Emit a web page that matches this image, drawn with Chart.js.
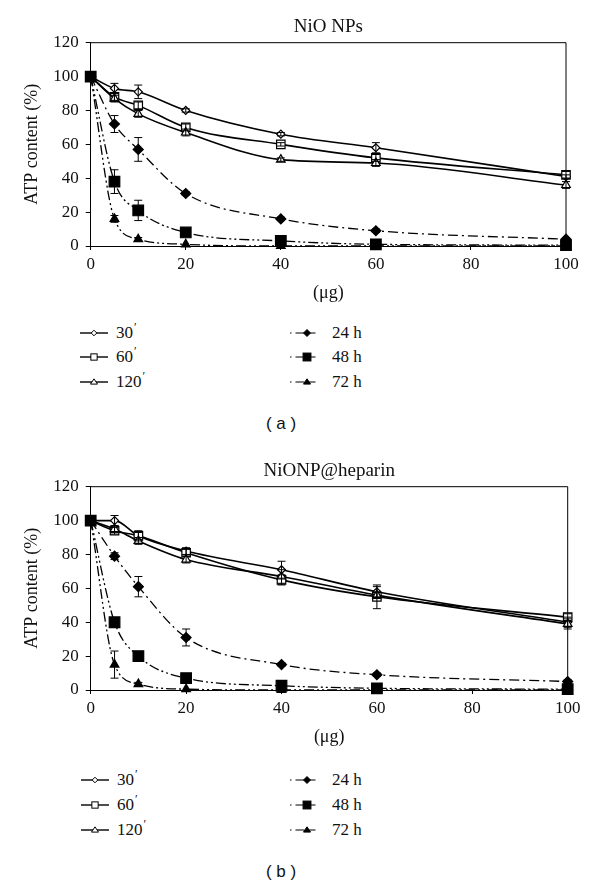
<!DOCTYPE html>
<html>
<head>
<meta charset="utf-8">
<script src="https://cdn.jsdelivr.net/npm/chart.js@4.4.1/dist/chart.umd.min.js"></script>
<style>
  body { margin: 0; background: #fff; }
  #page { position: relative; width: 600px; height: 889px; overflow: hidden; font-family: "Liberation Serif", serif; color: #111; }
  canvas { position: absolute; left: 0; }
  .leg { position: absolute; height: 20px; display: flex; align-items: center; font-size: 17px; white-space: nowrap; }
  .leg svg { margin-right: 8px; }
  .pr { position: relative; top: -7px; font-size: 12px; margin-left: 1px; }
  .cap { position: absolute; width: 600px; left: -19px; text-align: center; font-family: "Liberation Sans", sans-serif; font-size: 17px; }
</style>
</head>
<body>
<div id="page">
  <canvas id="chartA" width="600" height="310" style="top:0"></canvas>
  <canvas id="chartB" width="600" height="310" style="top:444px"></canvas>
  <div class="cap" style="top:414px">( a )</div>
  <div class="cap" style="top:862px">( b )</div>
</div>
<script>
// doses (x) and legend labels
const doses = [0, 5, 10, 20, 40, 60, 100];
const seriesLabels = ['30′', '60′', '120′', '24 h', '48 h', '72 h'];
const xTicks = [0, 20, 40, 60, 80, 100];
const yTicks = [0, 20, 40, 60, 80, 100, 120];

// panel (a) NiO NPs
const nio30 = [100, 93, 91, 80, 66, 58, 41];
const nio60 = [100, 88, 83, 70, 60, 52, 42];
const nio120 = [100, 87, 78, 67, 51, 49, 36];
const nio24 = [100, 72, 57, 31, 16, 9, 4];
const nio48 = [100, 38, 21, 8, 3, 1, 0.5];
const nio72 = [100, 16, 4, 1, 0, 0, 0];
const nioErr30 = [0, 3, 4, 1, 1, 3, 1];
const nioErr60 = [0, 2, 2, 2, 1, 2, 2];
const nioErr120 = [0, 2, 2, 2, 1, 2, 2];
const nioErr24 = [0, 5, 7, 1, 1, 1, 1];
const nioErr48 = [0, 7, 6, 1, 0, 0, 0];
const nioErr72 = [0, 2, 1, 0, 0, 0, 0];

// panel (b) NiONP@heparin
const hep30 = [100, 100, 91, 82, 71, 58, 40];
const hep60 = [100, 94, 91, 81, 65, 55, 43];
const hep120 = [100, 95, 88, 77, 67, 56, 39];
const hep24 = [100, 79, 61, 31, 15, 9, 5];
const hep48 = [100, 40, 20, 7, 2.5, 1, 0.5];
const hep72 = [100, 15, 3.5, 0.5, 0, 0, 0];
const hepErr30 = [0, 3, 2, 2, 5, 3, 3];
const hepErr60 = [0, 2, 3, 2, 3, 7, 2];
const hepErr120 = [0, 2, 2, 2, 4, 2, 3];
const hepErr24 = [0, 2, 6, 5, 1, 1, 1];
const hepErr48 = [0, 1, 1, 1, 0, 0, 0];
const hepErr72 = [0, 8, 1, 0, 0, 0, 0];

// marker / line look for each series
const looks = [
  { shape: 'rectRot', fill: '#fff', r: 4, dash: [] },
  { shape: 'rect', fill: '#fff', r: 6, dash: [] },
  { shape: 'triangle', fill: '#fff', r: 5, dash: [] },
  { shape: 'rectRot', fill: '#000', r: 5, dash: [10, 4, 2, 4] },
  { shape: 'rect', fill: '#000', r: 7.5, dash: [10, 3, 2, 3, 2, 3] },
  { shape: 'triangle', fill: '#000', r: 5, dash: [10, 3, 2, 3, 2, 3] }
];

const SERIF = '"Liberation Serif", serif';

// errores + marco
const errorBars = {
  id: 'errorBars',
  afterDatasetsDraw(chart) {
    const ctx = chart.ctx, xs = chart.scales.x, ys = chart.scales.y;
    ctx.save();
    ctx.strokeStyle = '#000';
    ctx.lineWidth = 1;
    chart.data.datasets.forEach(ds => {
      ds.data.forEach((p, i) => {
        const e = ds.errors[i];
        if (!e) return;
        const px = xs.getPixelForValue(p.x);
        const t = ys.getPixelForValue(p.y + e);
        const b = ys.getPixelForValue(Math.max(0, p.y - e));
        ctx.beginPath();
        ctx.moveTo(px, t); ctx.lineTo(px, b);
        ctx.moveTo(px - 4, t); ctx.lineTo(px + 4, t);
        ctx.moveTo(px - 4, b); ctx.lineTo(px + 4, b);
        ctx.stroke();
      });
    });
    ctx.restore();
  }
};

const frame = {
  id: 'frame',
  beforeDatasetsDraw(chart) {
    const { ctx, chartArea: a } = chart;
    ctx.save();
    ctx.strokeStyle = '#000';
    ctx.lineWidth = 1;
    ctx.beginPath();
    ctx.moveTo(a.left, a.top); ctx.lineTo(a.right, a.top); ctx.lineTo(a.right, a.bottom);
    ctx.stroke();
    ctx.restore();
  }
};

function crearGrafico(canvasId, titulo, series, errores, padRight) {
  const datasets = series.map((vals, k) => ({
    label: seriesLabels[k],
    data: doses.map((d, i) => ({ x: d, y: vals[i] })),
    errors: errores[k],
    borderColor: '#000',
    borderWidth: k < 3 ? 1.6 : 1.3,
    borderDash: looks[k].dash,
    cubicInterpolationMode: 'monotone',
    pointStyle: looks[k].shape,
    pointRadius: looks[k].r,
    pointBackgroundColor: looks[k].fill,
    pointBorderColor: '#000',
    pointBorderWidth: 1.2,
    clip: false,
    order: k === 4 ? 0 : 6 - k
  }));

  return new Chart(document.getElementById(canvasId), {
    type: 'line',
    data: { datasets },
    plugins: [frame, errorBars],
    options: {
      responsive: false,
      animation: false,
      devicePixelRatio: 1,
      layout: { padding: { left: 0, right: padRight, top: 0, bottom: 2.2 } },
      plugins: {
        legend: { display: false },
        tooltip: { enabled: false },
        title: {
          display: true,
          text: titulo,
          fullSize: false,
          color: '#111',
          font: { family: SERIF, size: 19, weight: 'normal' },
          padding: { top: 16.1, bottom: 3.8 }
        }
      },
      scales: {
        x: {
          type: 'linear',
          min: 0,
          max: 100,
          afterBuildTicks: s => { s.ticks = xTicks.map(v => ({ value: v })); },
          ticks: { color: '#111', padding: 4.8, font: { family: SERIF, size: 17 } },
          grid: { drawOnChartArea: false, drawTicks: true, tickLength: 4, color: '#000' },
          border: { display: true, color: '#000', width: 1 },
          title: { display: true, text: '(μg)', color: '#111', font: { family: SERIF, size: 18 }, padding: { top: 2.2, bottom: 4 } }
        },
        y: {
          min: 0,
          max: 120,
          afterBuildTicks: s => { s.ticks = yTicks.map(v => ({ value: v })); },
          afterFit: s => { s.width = 90.7; },
          ticks: { color: '#111', padding: 7, font: { family: SERIF, size: 17 } },
          grid: { drawOnChartArea: false, drawTicks: true, tickLength: 5, color: '#000' },
          border: { display: true, color: '#000', width: 1 },
          title: { display: true, text: 'ATP content (%)', color: '#111', font: { family: SERIF, size: 18 }, padding: { top: 21.7, bottom: 0 } }
        }
      }
    }
  });
}

crearGrafico('chartA', 'NiO NPs',
  [nio30, nio60, nio120, nio24, nio48, nio72],
  [nioErr30, nioErr60, nioErr120, nioErr24, nioErr48, nioErr72], 34);
crearGrafico('chartB', 'NiONP@heparin',
  [hep30, hep60, hep120, hep24, hep48, hep72],
  [hepErr30, hepErr60, hepErr120, hepErr24, hepErr48, hepErr72], 32.3);

// leyenda en HTML
function markerSvg(look) {
  const w = look.dash.length ? 34 : 28, h = 14, cx = w / 2, cy = 7;
  const r = look.r * 0.7;
  let shape = '';
  if (look.shape === 'rectRot') {
    shape = `<polygon points="${cx - r},${cy} ${cx},${cy - r} ${cx + r},${cy} ${cx},${cy + r}"/>`;
  } else if (look.shape === 'rect') {
    const s = r * 0.75;
    shape = `<rect x="${cx - s}" y="${cy - s}" width="${2 * s}" height="${2 * s}"/>`;
  } else {
    shape = `<polygon points="${cx - r},${cy + r * 0.6} ${cx + r},${cy + r * 0.6} ${cx},${cy - r * 0.9}"/>`;
  }
  const line = look.dash.length
    ? `<line x1="0" y1="${cy}" x2="${w}" y2="${cy}" stroke="#000" stroke-width="1.2" stroke-dasharray="1.5 4 9 4 7 40"/>`
    : `<line x1="0" y1="${cy}" x2="${w}" y2="${cy}" stroke="#000" stroke-width="1.4"/>`;
  return `<svg width="${w}" height="${h}">${line}<g fill="${look.fill}" stroke="#000" stroke-width="1">${shape}</g></svg>`;
}

function leyenda(rowsY, leftX, rightX) {
  const page = document.getElementById('page');
  seriesLabels.forEach((lab, k) => {
    const d = document.createElement('div');
    d.className = 'leg';
    const col = k < 3 ? leftX : rightX;
    d.style.left = col + 'px';
    d.style.top = (rowsY[k % 3] - 10) + 'px';
    let txt = lab;
    if (lab.endsWith('′')) txt = lab.slice(0, -1) + '<span class="pr">′</span>';
    d.innerHTML = markerSvg(looks[k]) + '<span>' + txt + '</span>';
    page.appendChild(d);
  });
}

leyenda([333, 357, 382], 80, 290);
leyenda([780, 805, 830], 81, 290);
</script>
</body>
</html>
